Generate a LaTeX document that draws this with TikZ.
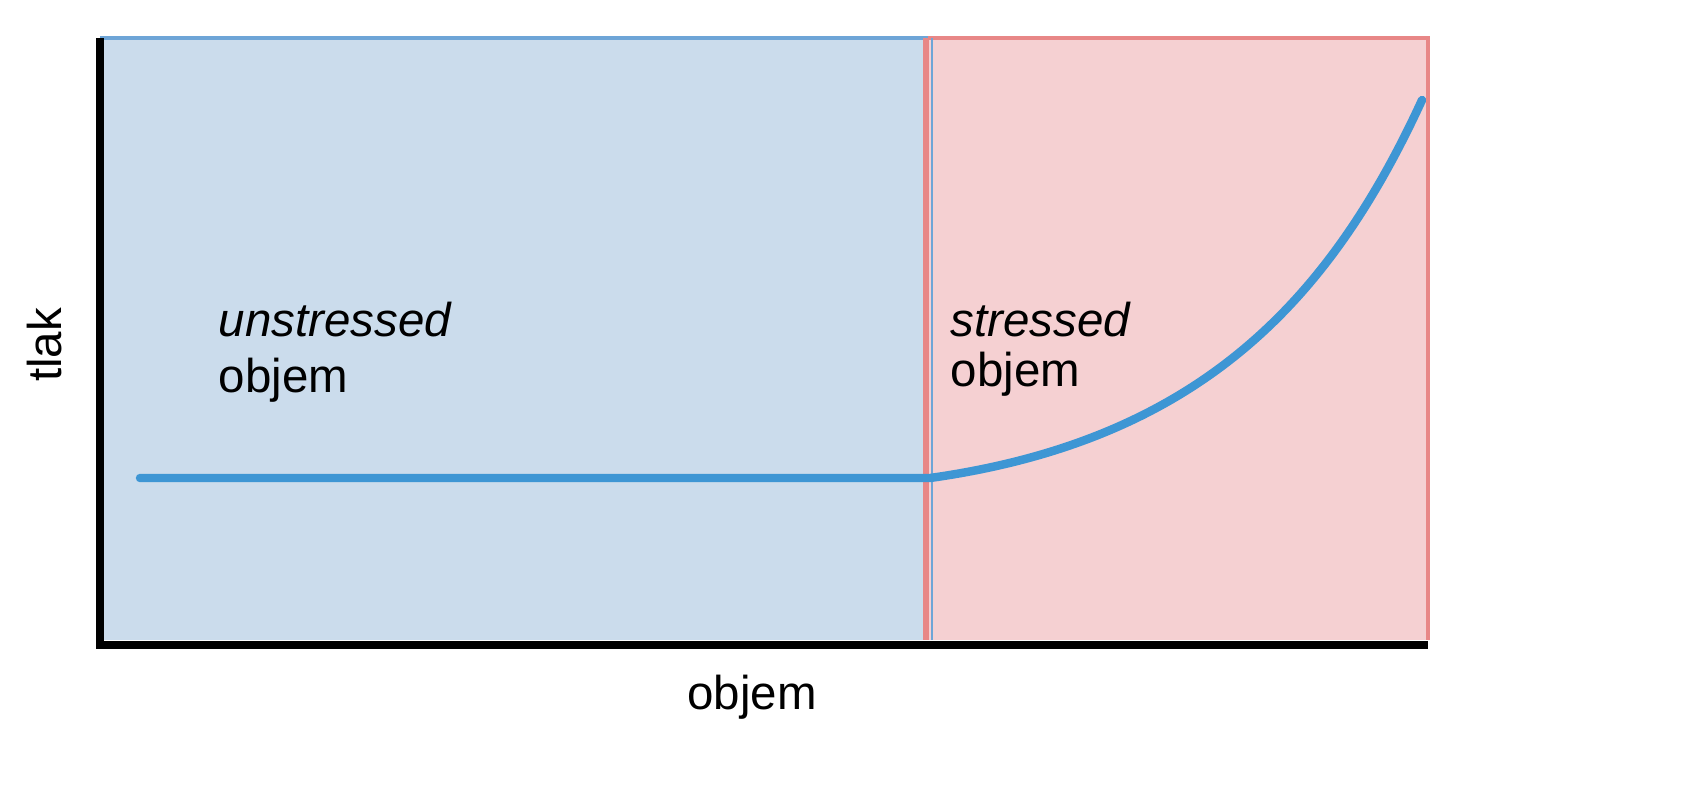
\documentclass[tikz,border=0pt]{standalone}
\usepackage{fontspec}
\setmainfont{Liberation Sans}
\definecolor{bfill}{RGB}{203,220,236}
\definecolor{pfill}{RGB}{245,208,210}
\definecolor{bedge}{RGB}{110,165,215}
\definecolor{redge}{RGB}{232,135,135}
\definecolor{curve}{RGB}{62,150,212}
\begin{document}
\begin{tikzpicture}[x=0.01cm,y=-0.01cm,
  lab/.style={font=\fontsize{13.5}{16}\selectfont,inner sep=0pt,align=left}]
\useasboundingbox (0,0) rectangle (1689,800);
\fill[bfill] (100,38) rectangle (928,640);
\fill[pfill] (928,38) rectangle (1428,640);
\draw[bedge,line width=1.2pt] (100,38) -- (928,38);
\draw[redge,line width=1.2pt] (928,38) -- (1428,38) -- (1428,640);
\draw[redge,line width=1.5pt] (926,38) -- (926,640);
\draw[bedge,line width=0.8pt] (932,38) -- (932,640);
\draw[black,line width=2.2pt] (100,38) -- (100,645) -- (1428,645);
\coordinate (s) at (140,478);
\coordinate (m) at (930,478);
\coordinate (e) at (1422,100);
\draw[curve,line width=2.4pt,line cap=round] (s) -- (m)
  .. controls (1200,440) and (1330,300) .. (e);
\node[lab,anchor=west] (u) at (218,320) {\itshape unstressed};
\node[lab,anchor=west] (uo) at (218,380) {objem};
\node[lab,anchor=west] (st) at (950,320) {\itshape stressed};
\node[lab,anchor=west] (so) at (950,374) {objem};
\node[lab,rotate=90] (y) at (45,345) {tlak};
\node[lab] (x) at (752,697) {objem};
\end{tikzpicture}
\end{document}
